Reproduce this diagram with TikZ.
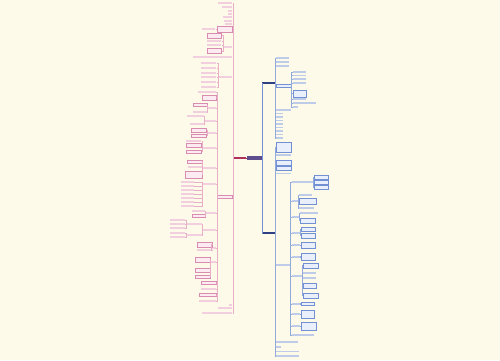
\documentclass[tikz,border=0pt]{standalone}
\usepackage{xcolor}
\usepackage{tikz}
\usetikzlibrary{positioning}

\definecolor{bgc}{HTML}{FEFAEA}
\definecolor{ctr}{HTML}{5E4E8E}
\definecolor{lred}{HTML}{B0305C}
\definecolor{lpink}{HTML}{E9AFC9}
\definecolor{lmag}{HTML}{D98CB0}
\definecolor{lpale}{HTML}{FCEBF1}
\definecolor{rnavy}{HTML}{2E3F86}
\definecolor{rblue}{HTML}{93A9DA}
\definecolor{rmid}{HTML}{7391D2}
\definecolor{rpale}{HTML}{EAF0FB}

\begin{document}
\begin{tikzpicture}[
  x=1pt, y=-1pt,
  bw/.style={minimum width=#1},
  cbox/.style={fill=ctr, inner sep=0, minimum width=15, minimum height=4.5},
  lbar/.style={fill=lred, inner sep=0, minimum height=1.6, anchor=east},
  rbar/.style={fill=rnavy, inner sep=0, minimum height=1.6, anchor=west},
  lleaf/.style={fill=lpink!60, inner sep=0, minimum height=1.8, anchor=east},
  rleaf/.style={fill=rblue!60, inner sep=0, minimum height=1.8, anchor=west},
  lbox/.style={draw=lmag, fill=lpale, line width=.3pt, inner sep=0,
               minimum height=#1, anchor=east},
  rbox/.style={draw=rmid, fill=rpale, line width=.3pt, inner sep=0,
               minimum height=#1, anchor=west},
  lline/.style={draw=lpink, line width=.4pt},
  rline/.style={draw=rblue, line width=.4pt}
]
% background
\fill[bgc] (0,0) rectangle (500,360);

% centre and first level
\node[cbox] (C) at (254.5,158) {};
\node[lbar, bw=12] (L) at (246,158) {};
\node[rbar, bw=12.5] (R1) at (262,83) {};
\node[rbar, bw=12.5] (R2) at (262,233) {};
\draw[draw=lred, line width=.6pt] (L.east) -- (C.west);
\draw[draw=rmid, line width=.5pt] (R1.west) -| (C.east);
\draw[draw=rmid, line width=.5pt] (R2.west) -| (C.east);

% left side, second level
\foreach \y/\w in {3/14,7/10,11/4,14/4,17/9,21/8,24/7,305/3,308/14,313/30}{
  \node[lleaf, bw=\w] (a\y) at (232.5,\y) {};
  \draw[lline] (a\y.east) -| (L.west);
}
\node[lbox=6, bw=15] (ta) at (232.5,29) {};
\node[lleaf, bw=9] (tb) at (232.5,47) {};
\node[lleaf, bw=39] (tc) at (232.5,57) {};
\node[lleaf, bw=14] (td) at (232.5,77) {};
\node[lbox=3.5, bw=15] (big) at (232.5,196.5) {};
\foreach \n in {ta,tb,tc,td,big}
  \draw[lline] (\n.east) -| (L.west);

% left side, small groups near the top
\node[lleaf, bw=13] (ta1) at (215.5,29) {};
\draw[lline] (ta1.east) -- (ta.west);
\node[lbox=5, bw=14] (tb1) at (221.5,35.5) {};
\node[lleaf, bw=14] (tb2) at (221.5,41) {};
\node[lleaf, bw=14] (tb3) at (221.5,45) {};
\node[lbox=5, bw=14] (tb4) at (221.5,51) {};
\foreach \n in {tb1,tb2,tb3,tb4}
  \draw[lline] (\n.east) -| (tb.west);
\foreach \y in {63,68,73,77,82,87}{
  \node[lleaf, bw=15] (td\y) at (216.5,\y) {};
  \draw[lline] (td\y.east) -| (td.west);
}

% left side, the large group
\node[lleaf, bw=18] (c1) at (216,92) {};
\node[lbox=5, bw=14] (c2) at (216,97.5) {};
\node[lleaf, bw=8] (c3) at (216,108) {};
\node[lleaf, bw=11] (c4) at (216,121) {};
\node[lleaf, bw=8] (c5) at (216,133) {};
\node[lleaf, bw=13] (c6) at (216,148) {};
\node[lleaf, bw=13] (c7) at (216,168) {};
\node[lleaf, bw=13] (c8) at (216,184) {};
\node[lleaf, bw=10] (c9) at (216,213) {};
\node[lleaf, bw=13] (c10) at (216,230) {};
\node[lleaf, bw=4] (c11) at (216,248) {};
\node[lleaf, bw=5] (c12) at (216,262) {};
\node[lbox=3, bw=15] (c13) at (216,283) {};
\node[lleaf, bw=15] (c14) at (216,289) {};
\node[lbox=3, bw=17] (c15) at (216,295) {};
\node[lleaf, bw=17] (c16) at (216,301) {};
\foreach \i in {1,...,16}
  \draw[lline] (c\i.east) -| (big.west);

\node[lbox=3, bw=14] (c3a) at (207,105) {};
\node[lleaf, bw=14] (c3b) at (207,112) {};
\node[lleaf, bw=17] (c4a) at (204,116) {};
\node[lleaf, bw=14] (c4b) at (204,124) {};
\node[lbox=3.5, bw=15] (c5a) at (206.5,130) {};
\node[lbox=3.5, bw=15] (c5b) at (206.5,135.5) {};
\node[lleaf, bw=15] (c6a) at (201.5,141) {};
\node[lbox=4, bw=15] (c6b) at (201.5,145.5) {};
\node[lbox=3.5, bw=15] (c6c) at (201.5,151.5) {};
\node[lbox=3, bw=15] (c7a) at (202,161.5) {};
\node[lleaf, bw=14] (c7b) at (202,167) {};
\node[lbox=7, bw=17] (c7c) at (202,174.5) {};
\node[lleaf, bw=13] (c9a) at (205,211) {};
\node[lbox=3, bw=13] (c9b) at (205,216) {};
\node[lleaf, bw=15] (c10a) at (202,224) {};
\node[lleaf, bw=15] (c10b) at (202,235) {};
\node[lbox=5, bw=15] (c11a) at (212,244.5) {};
\node[lleaf, bw=15] (c11b) at (212,250) {};
\node[lbox=5, bw=15] (c12a) at (210,259.5) {};
\node[lbox=4, bw=15] (c12b) at (210,270.5) {};
\node[lbox=3, bw=15] (c12c) at (210,276.5) {};
\foreach \p/\k in {c3/c3a,c3/c3b,c4/c4a,c4/c4b,c5/c5a,c5/c5b,c6/c6a,c6/c6b,
  c6/c6c,c7/c7a,c7/c7b,c7/c7c,c9/c9a,c9/c9b,c10/c10a,c10/c10b,c11/c11a,
  c11/c11b,c12/c12a,c12/c12b,c12/c12c}
  \draw[lline] (\k.east) -| (\p.west);
\foreach \y in {182,186,190,194,198,202,206}{
  \node[lleaf, bw=13] (c8\y) at (194,\y) {};
  \draw[lline] (c8\y.east) -| (c8.west);
}
\foreach \y in {220,224,228}{
  \node[lleaf, bw=15] (c10a\y) at (185,\y) {};
  \draw[lline] (c10a\y.east) -| (c10a.west);
}
\foreach \y in {233,237}{
  \node[lleaf, bw=15] (c10b\y) at (185,\y) {};
  \draw[lline] (c10b\y.east) -| (c10b.west);
}

% right side, first branch
\foreach \y in {58,62,66}{
  \node[rleaf, bw=13] (p\y) at (276,\y) {};
  \draw[rline] (p\y.west) -| (R1.east);
}
\node[rbox=3, bw=15] (pm) at (276,85.5) {};
\node[rleaf, bw=15] (pn) at (276,110) {};
\foreach \n in {pm,pn}
  \draw[rline] (\n.west) -| (R1.east);
\foreach \y [count=\i] in {113.5,117,120.5,124,127.5,131,134.5,138}{
  \node[rleaf, bw=7] (q\i) at (276,\y) {};
  \draw[rline] (q\i.west) -| (R1.east);
}
\foreach \y/\w [count=\i] in {72/13,75.5/13,79/13,83/13,99/13,103/23,107/5}{
  \node[rleaf, bw=\w] (pm\i) at (292.5,\y) {};
  \draw[rline] (pm\i.west) -| (pm.east);
}
\node[rbox=7, bw=13] (pmb) at (292.5,93.5) {};
\draw[rline] (pmb.west) -| (pm.east);

% right side, second branch
\node[rbox=10, bw=15] (s1) at (276,147) {};
\node[rleaf, bw=15] (s2) at (276,155) {};
\node[rbox=5, bw=15] (s3) at (276,162.5) {};
\node[rbox=4, bw=15] (s4) at (276,168.5) {};
\node[rleaf, bw=15] (s5) at (276,173.5) {};
\node[rleaf, bw=14] (hub) at (276,265) {};
\foreach \n in {s1,s2,s3,s4,s5,hub}
  \draw[rline] (\n.west) -| (R2.east);
\foreach \y/\w [count=\i] in {342/22,347/5,351.5/23,356/23}{
  \node[rleaf, bw=\w] (v\i) at (276,\y) {};
  \draw[rline] (v\i.west) -| (R2.east);
}

\foreach \y/\w [count=\i] in {182/21,201/6,217/7,233/8,245/8,257/8,276/10,
  304/8,314/8,326/8,335/22}{
  \node[rleaf, bw=\w] (u\i) at (291.5,\y) {};
  \draw[rline] (u\i.west) -| (hub.east);
}
\foreach \y in {177,182,187}{
  \node[rbox=4, bw=14] (u1\y) at (314,\y) {};
  \draw[rline] (u1\y.west) -| (u1.east);
}
\node[rleaf, bw=13] (u2a) at (299,195) {};
\node[rbox=6, bw=17] (u2b) at (299,201.5) {};
\node[rleaf, bw=15] (u2c) at (299,208) {};
\node[rleaf, bw=18] (u3a) at (300,213) {};
\node[rbox=5, bw=15] (u3b) at (300,220.5) {};
\node[rbox=4, bw=14] (u4a) at (301,229) {};
\node[rbox=5, bw=14] (u4b) at (301,235.5) {};
\node[rbox=6, bw=14] (u5a) at (301,245) {};
\node[rbox=7, bw=14] (u6a) at (301,256.5) {};
\node[rbox=5, bw=15] (u7a) at (303,265.5) {};
\node[rleaf, bw=13] (u7b) at (303,273) {};
\node[rleaf, bw=13] (u7c) at (303,278) {};
\node[rbox=5, bw=13] (u7d) at (303,285.5) {};
\node[rbox=5, bw=15] (u7e) at (303,295.5) {};
\node[rbox=3, bw=13] (u8a) at (301,303.5) {};
\node[rbox=8, bw=13] (u9a) at (301,314) {};
\node[rbox=8, bw=15] (u10a) at (301,326) {};
\foreach \p/\k in {u2/u2a,u2/u2b,u2/u2c,u3/u3a,u3/u3b,u4/u4a,u4/u4b,u5/u5a,
  u6/u6a,u7/u7a,u7/u7b,u7/u7c,u7/u7d,u7/u7e,u8/u8a,u9/u9a,u10/u10a}
  \draw[rline] (\k.west) -| (\p.east);
\end{tikzpicture}
\end{document}
